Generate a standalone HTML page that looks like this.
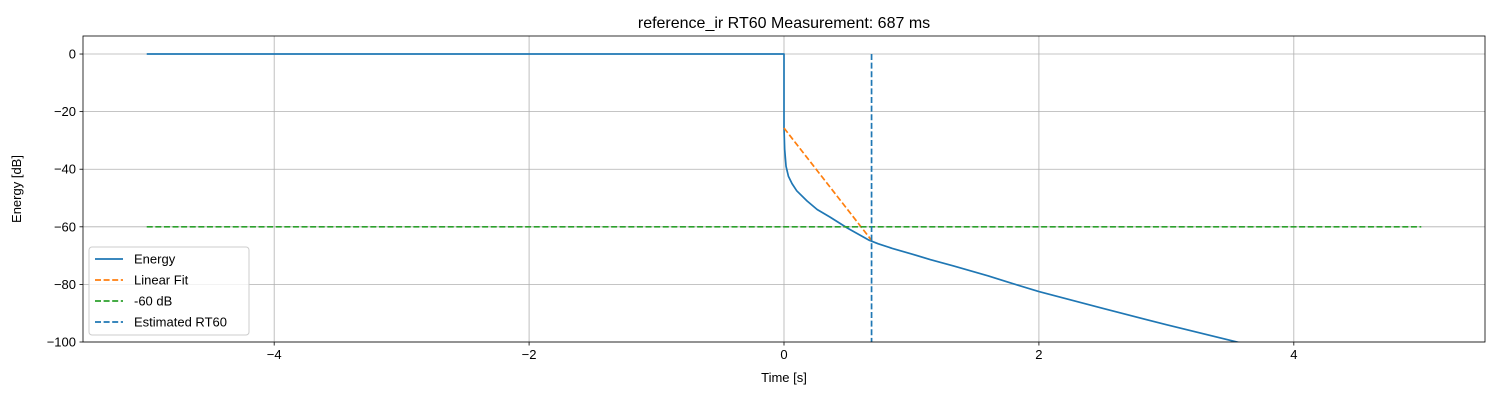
<!DOCTYPE html>
<html><head><meta charset="utf-8"><style>
body{margin:0;background:#fff;font-family:"Liberation Sans","DejaVu Sans",sans-serif}
</style></head><body>
<svg id="c" width="1500" height="400" xmlns="http://www.w3.org/2000/svg"></svg>
<script>
const xTicks=[-4,-2,0,2,4];
const yTicks=[0,-20,-40,-60,-80,-100];
const energyT=[-5,0,0,0.005,0.016,0.035,0.063,0.1,0.18,0.26,0.36,0.5,0.67,0.74,0.85,1.0,1.15,1.33,1.6,1.8,2.0,2.5,3.0,3.6,4.0];
const energyDb=[0,0,-25.7,-33,-39,-42.5,-45,-47.5,-51,-54,-56.6,-60.5,-64.7,-65.9,-67.5,-69.4,-71.4,-73.6,-77,-79.8,-82.5,-88.3,-94,-100.5,-105];
const fitT=[0,0.687];
const fitDb=[-25.7,-64.7];
const refLevel=-60;
const refRange=[-5,5];
const rt60=0.687;
const L=83,R=1485,T=36,B=342,xmin=-5.5,xmax=5.5,ymin=-100,ymax=6.26;
const X=v=>L+(v-xmin)/(xmax-xmin)*(R-L);
const Y=v=>B-(v-ymin)/(ymax-ymin)*(B-T);
const svg=document.getElementById('c');const NS='http://www.w3.org/2000/svg';
function el(tag,attrs,parent){const e=document.createElementNS(NS,tag);for(const k in attrs)e.setAttribute(k,attrs[k]);(parent||svg).appendChild(e);return e;}
const defs=el('defs',{});const cp=el('clipPath',{id:'clip'},defs);el('rect',{x:L,y:T,width:R-L,height:B-T},cp);
xTicks.forEach(t=>{const g=el('line',{x1:X(t),x2:X(t),y1:T,y2:B,stroke:'#b0b0b0','stroke-width':0.8});


el('line',{x1:X(t),x2:X(t),y1:B,y2:B+3.5,stroke:'#000','stroke-width':0.8});
const tx=el('text',{x:X(t),y:B+17,'text-anchor':'middle','font-size':13});tx.textContent=(t<0?'\u2212'+(-t):t);

});
yTicks.forEach(t=>{const g=el('line',{x1:L,x2:R,y1:Y(t),y2:Y(t),stroke:'#b0b0b0','stroke-width':0.8});


el('line',{x1:L-3.5,x2:L,y1:Y(t),y2:Y(t),stroke:'#000','stroke-width':0.8});
const tx=el('text',{x:L-7,y:Y(t)+4.5,'text-anchor':'end','font-size':13});tx.textContent=(t<0?'\u2212'+(-t):t);

});
const g=el('g',{'clip-path':'url(#clip)'});
const pts=(ts,vs)=>ts.map((t,i)=>X(t)+','+Y(vs[i])).join(' ');
const e1=el('polyline',{points:pts(energyT,energyDb),fill:'none',stroke:'#1f77b4','stroke-width':1.7,'stroke-linejoin':'round'},g);


const e2=el('polyline',{points:pts(fitT,fitDb),fill:'none',stroke:'#ff7f0e','stroke-width':1.7,'stroke-dasharray':'6,2.6'},g);


const e3=el('line',{x1:X(refRange[0]),x2:X(refRange[1]),y1:Y(refLevel),y2:Y(refLevel),stroke:'#2ca02c','stroke-width':1.7,'stroke-dasharray':'6,2.6'},g);


const e4=el('line',{x1:X(rt60),x2:X(rt60),y1:Y(0),y2:Y(ymin),stroke:'#1f77b4','stroke-width':1.7,'stroke-dasharray':'6,2.6'},g);


el('rect',{x:L,y:T,width:R-L,height:B-T,fill:'none',stroke:'#000','stroke-width':0.8});
const ti=el('text',{x:(L+R)/2,y:28,'text-anchor':'middle','font-size':16});ti.textContent='reference_ir RT60 Measurement: 687 ms';


const xl=el('text',{x:(L+R)/2,y:382,'text-anchor':'middle','font-size':13});xl.textContent='Time [s]';


const yl=el('text',{x:0,y:0,'text-anchor':'middle','font-size':13,transform:'translate(21,'+((T+B)/2)+') rotate(-90)'});yl.textContent='Energy [dB]';


const lg=el('g',{});


el('rect',{x:89,y:247,width:160,height:88,rx:3,fill:'#fff','fill-opacity':0.8,stroke:'#ccc'},lg);
const items=[['Energy','#1f77b4',''],['Linear Fit','#ff7f0e','6,2.6'],['-60 dB','#2ca02c','6,2.6'],['Estimated RT60','#1f77b4','6,2.6']];
items.forEach((it,i)=>{const yy=259+i*21;
const ln=el('line',{x1:95,x2:123,y1:yy,y2:yy,stroke:it[1],'stroke-width':1.7,'stroke-dasharray':it[2]||'none'},lg);


const t=el('text',{x:134,y:yy+4.5,'font-size':13},lg);t.textContent=it[0];

});
</script>
</body></html>
